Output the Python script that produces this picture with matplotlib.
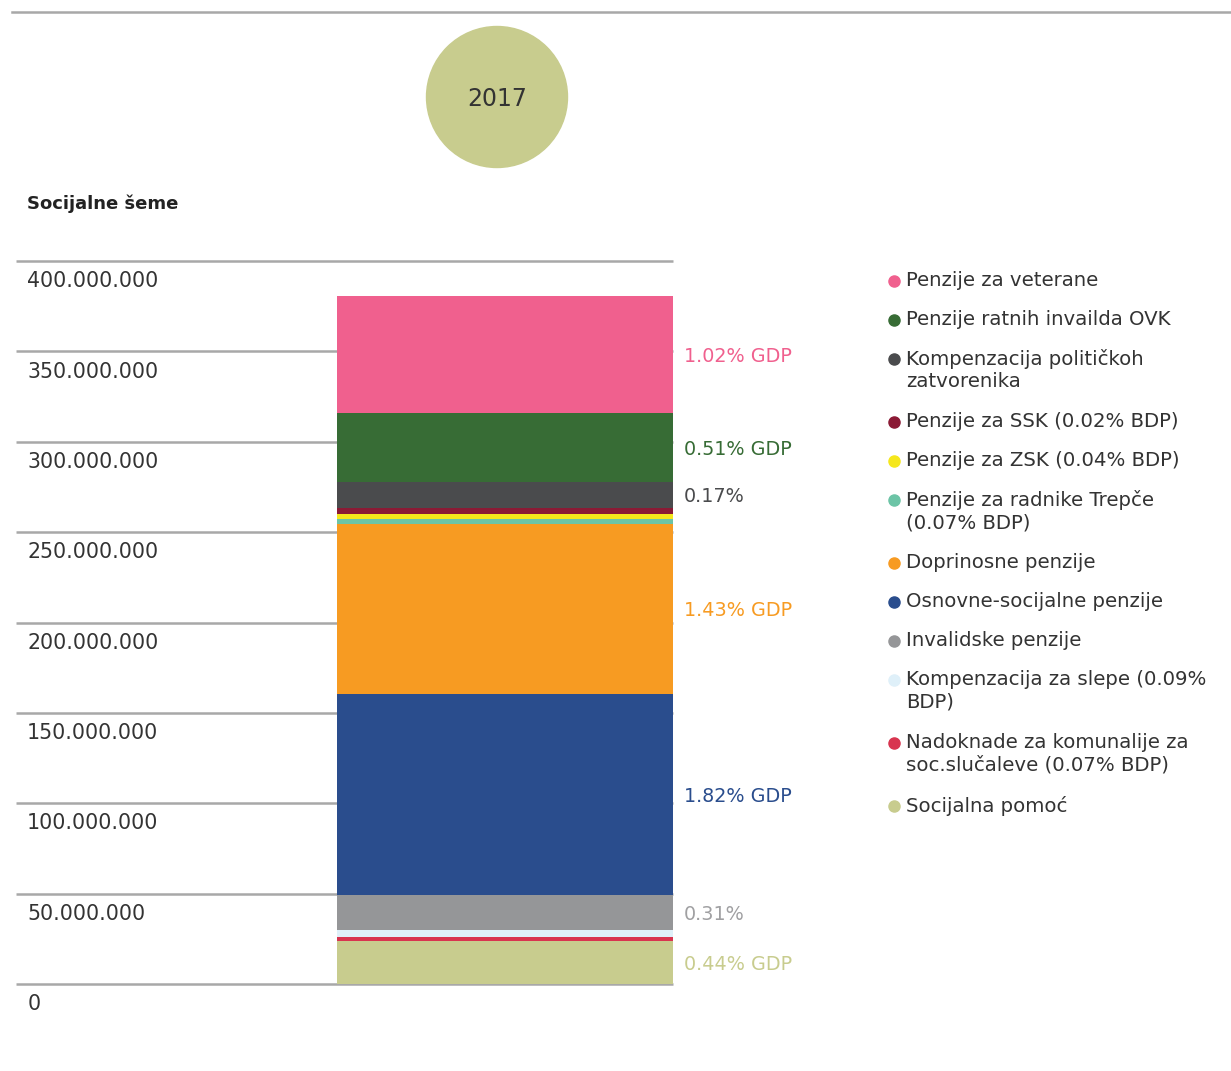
import matplotlib
matplotlib.use("Agg")
from matplotlib import pyplot as plt
from matplotlib.patches import Ellipse
from matplotlib.lines import Line2D
import matplotlib.transforms as mtransforms

plt.rcParams['font.family'] = ['DejaVu Sans']

# data (millions of EUR, bottom to top)
categories = ["Socijalna pomoć",
              "Nadoknade za komunalije za\nsoc.slučaleve (0.07% BDP)",
              "Kompenzacija za slepe (0.09%\nBDP)",
              "Invalidske penzije",
              "Osnovne-socijalne penzije",
              "Doprinosne penzije",
              "Penzije za radnike Trepče\n(0.07% BDP)",
              "Penzije za ZSK (0.04% BDP)",
              "Penzije za SSK (0.02% BDP)",
              "Kompenzacija političkoh\nzatvorenika",
              "Penzije ratnih invailda OVK",
              "Penzije za veterane"]
values = [23.8, 2.2, 3.9, 19.4, 111.2, 94.2, 2.6, 2.9, 3.3, 14.2, 38.2, 64.7]
colors = ["#c8cc8e", "#d8344f", "#dff0f9", "#959698", "#2a4d8d", "#f79b22",
          "#6cc4a6", "#f5e71c", "#8b1a35", "#4a4b4d", "#376c35", "#f0608e"]
bar_labels = ["0.44% GDP", "", "", "0.31%", "1.82% GDP", "1.43% GDP",
              "", "", "", "0.17%", "0.51% GDP", "1.02% GDP"]
label_colors = ["#c8cc8e", None, None, "#a0a0a2", "#2a4d8d", "#f79b22",
                None, None, None, "#4a4b4d", "#376c35", "#f0608e"]
yticks = [0, 50, 100, 150, 200, 250, 300, 350, 400]
ytick_labels = ["0", "50.000.000", "100.000.000", "150.000.000", "200.000.000",
                "250.000.000", "300.000.000", "350.000.000", "400.000.000"]

W, H = 1231, 1071
fig = plt.figure(figsize=(W / 100, H / 100), dpi=100)

ax = fig.add_axes([16 / W, 87 / H, 657 / W, 723 / H])
ax.set_xlim(0, 1)
ax.set_ylim(0, 400)
ax.axis("off")

# gridlines
for t in yticks:
    ax.axhline(t, color="#a8a8a8", lw=1.8, zorder=0, clip_on=False,
               solid_capstyle="butt")

# tick labels sit under each gridline
trans = mtransforms.blended_transform_factory(ax.transAxes, ax.transData)
for t, lab in zip(yticks, ytick_labels):
    ax.annotate(lab, (0.017, t), xycoords=trans, xytext=(0, -14.5),
                textcoords="offset points", va="center", ha="left",
                fontsize=14.8, color="#333333")

# stacked bar
bottom = 0
for v, c, lab, lc in zip(values, colors, bar_labels, label_colors):
    ax.bar(0.4886, v, width=0.5114, bottom=bottom, color=c, align="edge", zorder=2)
    if lab:
        ax.annotate(lab, (1.017, bottom + v / 2), xycoords=trans, xytext=(0, -1.5),
                    textcoords="offset points", va="center", ha="left",
                    fontsize=13.8, color=lc, annotation_clip=False)
    bottom += v

# top rule
fig.add_artist(Line2D([12 / W, 1], [1 - 12 / H] * 2, transform=fig.transFigure,
                      color="#a8a8a8", lw=1.8))

# year circle
fig.patches.append(Ellipse((497 / W, 1 - 97 / H), 141 / W, 141 / H,
                           transform=fig.transFigure, color="#c8cc8e"))
fig.text(497 / W, 1 - 99 / H, "2017", ha="center", va="center",
         fontsize=17, color="#333333")

fig.text(27 / W, 1 - 204 / H, "Socijalne šeme", ha="left", va="center",
         fontsize=13, fontweight="bold", color="#222222")

# legend, top to bottom
y = 281
for cat, c in zip(categories[::-1], colors[::-1]):
    fig.add_artist(Line2D([894 / W], [1 - y / H], transform=fig.transFigure,
                          marker="o", markersize=8, color=c, lw=0))
    fig.text(906 / W, 1 - (y - 10) / H, cat, ha="left", va="top",
             fontsize=14.2, color="#333333", linespacing=1.22)
    y += 39 + 24 * cat.count("\n")

fig.savefig("out.png", dpi=100)
